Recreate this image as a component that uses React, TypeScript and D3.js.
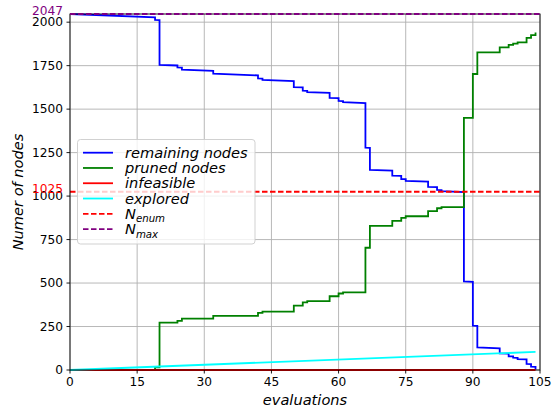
import React from "react";
import * as d3 from "d3";

// Evaluations at which the pruned-node count changes, and the count after each change
const stepEvals = [0, 19, 20, 24, 25, 32, 42, 43, 50, 52, 53, 58, 60, 61, 66, 67, 72, 74, 75, 80, 82, 83, 88, 90, 91, 96, 98, 99, 100, 102, 103, 104];
const prunedNodes = [0, 15, 272, 283, 295, 311, 328, 336, 370, 389, 396, 424, 440, 446, 703, 829, 857, 875, 884, 914, 930, 936, 1450, 1702, 1826, 1855, 1870, 1877, 1884, 1910, 1925, 1940];

// Remaining nodes just before and just after each of those evaluations
const remainingBefore = [2047, 2028, 2012, 1751, 1739, 1720, 1694, 1676, 1661, 1625, 1605, 1593, 1563, 1546, 1535, 1277, 1146, 1116, 1097, 1083, 1051, 1034, 1023, 507, 254, 125, 94, 78, 70, 61, 34, 18];
const remainingAfter = [2047, 2013, 1755, 1740, 1727, 1704, 1677, 1668, 1627, 1606, 1598, 1565, 1547, 1540, 1278, 1151, 1118, 1098, 1088, 1053, 1035, 1028, 509, 255, 130, 96, 79, 71, 63, 35, 19, 3];

const exploredEvals = [0, 104];
const exploredNodes = [0, 104];
const infeasibleEvals = [0, 104];
const infeasibleNodes = [0, 0];

const N_ENUM = 1025;
const N_MAX = 2047;

const xTicks = [0, 15, 30, 45, 60, 75, 90, 105];
const yTicks = [0, 250, 500, 750, 1000, 1250, 1500, 1750, 2000];

const W = 553;
const H = 412;
const left = 70;
const right = 540;
const top = 14;
const bottom = 370;

const FONT = "DejaVu Sans, Verdana, sans-serif";
const LW = 1.8;
const DASH = "5.5,2.5";

export default function App() {
  const x = d3.scaleLinear().domain([0, 105]).range([left, right]);
  const y = d3.scaleLinear().domain([0, N_MAX]).range([bottom, top]);

  const line = d3
    .line<[number, number]>()
    .x((d) => x(d[0]))
    .y((d) => y(d[1]));

  const remainingPts: [number, number][] = [];
  stepEvals.forEach((e, i) => {
    remainingPts.push([e, remainingBefore[i]]);
    remainingPts.push([e, remainingAfter[i]]);
  });

  const prunedPts: [number, number][] = stepEvals.map((e, i) => [e, prunedNodes[i]]);
  const stepLine = d3
    .line<[number, number]>()
    .x((d) => x(d[0]))
    .y((d) => y(d[1]))
    .curve(d3.curveStepAfter);

  const exploredPts: [number, number][] = exploredEvals.map((e, i) => [e, exploredNodes[i]]);
  const infeasiblePts: [number, number][] = infeasibleEvals.map((e, i) => [e, infeasibleNodes[i]]);

  const legendItems = [
    { label: "remaining nodes", color: "blue", dash: undefined as string | undefined, sub: "" },
    { label: "pruned nodes", color: "green", dash: undefined, sub: "" },
    { label: "infeasible", color: "red", dash: undefined, sub: "" },
    { label: "explored", color: "cyan", dash: undefined, sub: "" },
    { label: "N", color: "red", dash: DASH, sub: "enum" },
    { label: "N", color: "purple", dash: DASH, sub: "max" },
  ];

  const lx = 77.5;
  const ly = 139.5;
  const lw = 177.5;
  const lh = 104.5;
  const rowY0 = 152.7;
  const rowGap = 15.27;

  return (
    <svg width={W} height={H} style={{ position: "absolute", left: 0, top: 0, background: "#fff" }} fontFamily={FONT}>
      <rect x={0} y={0} width={W} height={H} fill="#fff" />
      <defs>
        <clipPath id="plot-area">
          <rect x={left} y={top - 2} width={right - left} height={bottom - top + 4} />
        </clipPath>
      </defs>

      {/* grid */}
      <g stroke="#b0b0b0" strokeWidth={0.9}>
        {xTicks.map((t) => (
          <line key={"gx" + t} x1={x(t)} x2={x(t)} y1={top} y2={bottom} />
        ))}
        {yTicks.map((t) => (
          <line key={"gy" + t} x1={left} x2={right} y1={y(t)} y2={y(t)} />
        ))}
      </g>

      {/* series */}
      <g clipPath="url(#plot-area)" fill="none" strokeWidth={LW}>
        <path d={line(remainingPts) || ""} stroke="blue" />
        <path d={stepLine(prunedPts) || ""} stroke="green" />
        <path d={line(infeasiblePts) || ""} stroke="red" />
        <path d={line(exploredPts) || ""} stroke="cyan" />
        <line x1={left} x2={right} y1={y(N_ENUM)} y2={y(N_ENUM)} stroke="red" strokeDasharray={DASH} />
      </g>

      {/* spines */}
      <rect x={left} y={top} width={right - left} height={bottom - top} fill="none" stroke="#000" strokeWidth={0.9} />
      <line x1={left} x2={right} y1={y(N_MAX)} y2={y(N_MAX)} stroke="purple" strokeDasharray={DASH} strokeWidth={LW} />

      {/* x axis */}
      {xTicks.map((t) => (
        <g key={"xt" + t}>
          <line x1={x(t)} x2={x(t)} y1={bottom} y2={bottom + 3.5} stroke="#000" strokeWidth={0.9} />
          <text x={x(t)} y={bottom + 16.3} textAnchor="middle" fontSize={12.2} fill="#000">
            {t}
          </text>
        </g>
      ))}
      {/* y axis */}
      {yTicks.map((t) => (
        <g key={"yt" + t}>
          <line x1={left - 3.5} x2={left} y1={y(t)} y2={y(t)} stroke="#000" strokeWidth={0.9} />
          <text x={left - 7} y={y(t)} dy="0.35em" textAnchor="end" fontSize={12.2} fill="#000">
            {t}
          </text>
        </g>
      ))}
      <text x={left - 7} y={y(N_ENUM)} dy="0.1em" textAnchor="end" fontSize={12.2} fill="red">
        {N_ENUM}
      </text>
      <text x={left - 7} y={y(N_MAX)} dy="0.1em" textAnchor="end" fontSize={12.2} fill="purple">
        {N_MAX}
      </text>

      {/* axis labels */}
      <text x={(left + right) / 2} y={405} textAnchor="middle" fontSize={14.6} fontStyle="italic" fill="#000">
        evaluations
      </text>
      <text
        transform={`translate(23,${(top + bottom) / 2}) rotate(-90)`}
        textAnchor="middle"
        fontSize={14.6}
        fontStyle="italic"
        fill="#000"
      >
        Numer of nodes
      </text>

      {/* legend */}
      <rect x={lx} y={ly} width={lw} height={lh} rx={3} fill="rgba(255,255,255,0.8)" stroke="#cccccc" strokeWidth={0.9} />
      {legendItems.map((it, i) => {
        const cy = rowY0 + i * rowGap;
        return (
          <g key={"lg" + i}>
            <line x1={83} x2={113} y1={cy} y2={cy} stroke={it.color} strokeWidth={LW} strokeDasharray={it.dash} />
            <text x={125} y={cy + 5} fontSize={14.6} fontStyle="italic" fill="#000">
              {it.label}
              {it.sub ? (
                <tspan fontSize={10.2} dy={3.5}>
                  {it.sub}
                </tspan>
              ) : null}
            </text>
          </g>
        );
      })}
    </svg>
  );
}
